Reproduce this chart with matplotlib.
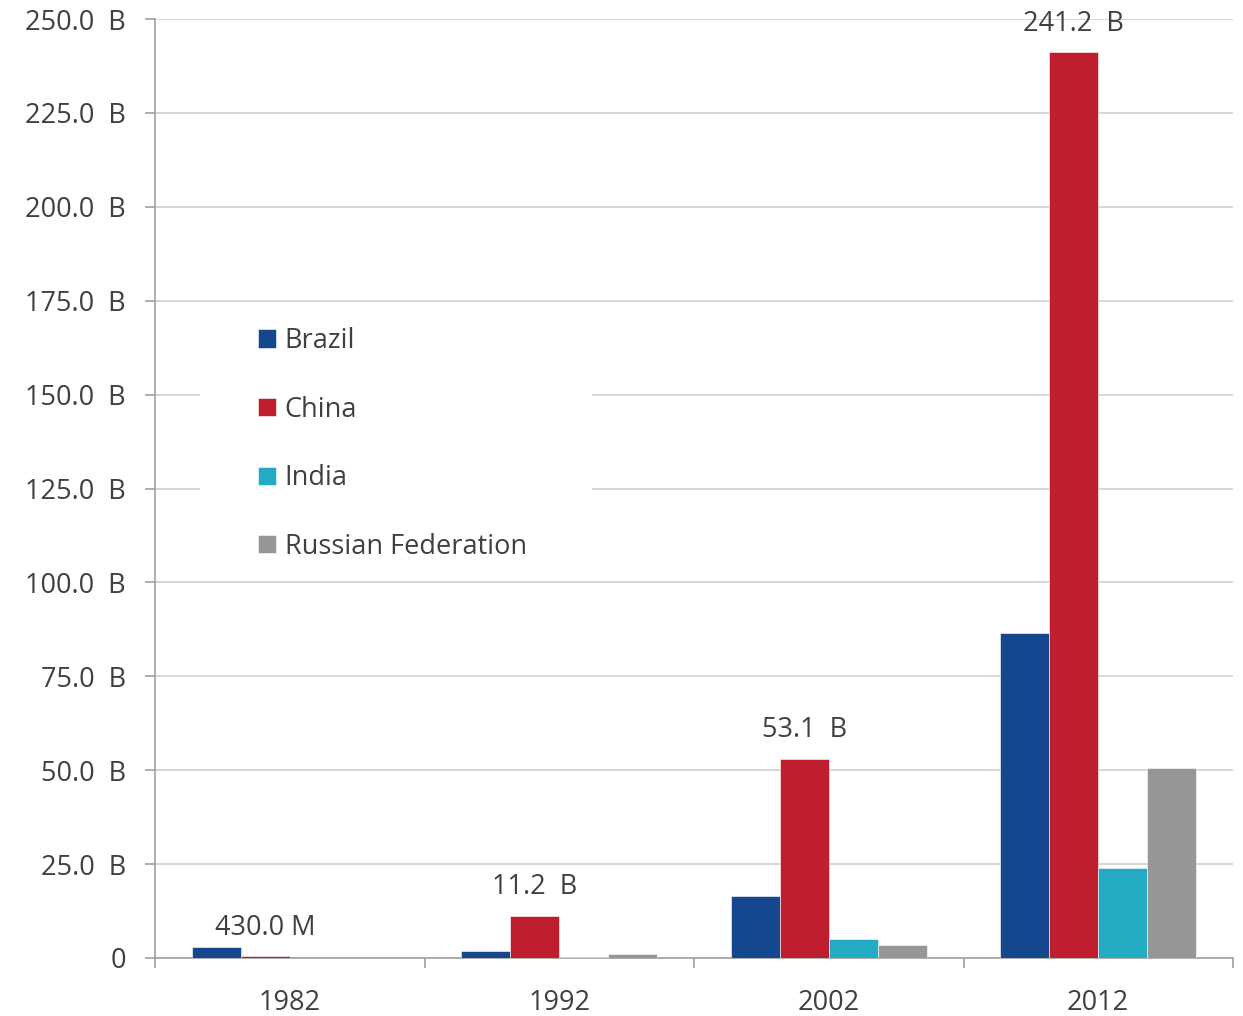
import numpy as np
import matplotlib
matplotlib.use("Agg")
from matplotlib import pyplot as plt
from matplotlib.ticker import FixedLocator
from matplotlib.patches import Rectangle

# data (billions)
years = ['1982', '1992', '2002', '2012']
countries = ['Brazil', 'China', 'India', 'Russian Federation']
brazil = [2.9, 1.9, 16.5, 86.5]
china = [0.43, 11.2, 53.1, 241.2]
india = [0.1, 0.2, 5.1, 24.0]
russia = [0.0, 1.1, 3.4, 50.6]
china_labels = ['430.0 M', '11.2  B', '53.1  B', '241.2  B']
colors = ['#15478f', '#be1e2d', '#22abc3', '#969696']

plt.rcParams['font.family'] = ['Open Sans', 'DejaVu Sans']
txt = '#404040'
fs = 19.5

fig = plt.figure(figsize=(12.43, 10.16), dpi=100)
ax = fig.add_axes([155/1243, 1-958/1016, (1233-155)/1243, (958-19)/1016])

x = np.arange(len(years))
w = 0.182
series = [brazil, china, india, russia]
for i, (vals, c, name) in enumerate(zip(series, colors, countries)):
    ax.bar(x + (i - 1.5)*w, vals, w, color=c, label=name, edgecolor='white', linewidth=0.4, zorder=3)

for xi, v, lab in zip(x, china, china_labels):
    ax.annotate(lab, (xi - 0.5*w, v), xytext=(0, 20.5), textcoords='offset points',
                ha='center', va='center', fontsize=fs, color=txt)

ax.set_xlim(-0.5, 3.5)
ax.set_ylim(0, 250)
ax.set_yticks(np.arange(0, 251, 25))
ax.set_yticklabels(['0'] + ['%.1f  B' % v for v in np.arange(25, 251, 25)])
ax.yaxis.grid(True, color='#d0d0d0', linewidth=1.2, zorder=0)
ax.set_axisbelow(True)
ax.set_xticks(x)
ax.set_xticklabels(years)
ax.xaxis.set_minor_locator(FixedLocator([-0.5, 0.5, 1.5, 2.5, 3.5]))
ax.tick_params(axis='x', which='major', length=0, pad=22.5, labelsize=fs, labelcolor=txt)
ax.tick_params(axis='x', which='minor', length=7, color='#a0a0a0', width=1.2)
ax.tick_params(axis='y', length=7, color='#a0a0a0', width=1.2, labelsize=fs, labelcolor=txt, pad=14)
for s in ['top', 'right']:
    ax.spines[s].set_visible(False)
for s in ['left', 'bottom']:
    ax.spines[s].set_color('#a0a0a0')
    ax.spines[s].set_linewidth(1.2)

# white area behind the legend, breaking the gridlines
ax.add_patch(Rectangle((45/1078, 1-(577-19)/939), (592-200)/1078, (577-305)/939,
                       transform=ax.transAxes, facecolor='white', edgecolor='none', zorder=1))

leg = ax.legend(loc='upper left', bbox_to_anchor=(103/1078, 1-(327-19)/939), fontsize=fs,
                frameon=False, handlelength=0.66, handleheight=0.66, handletextpad=0.32,
                labelspacing=1.5, borderpad=0, borderaxespad=0)
for t in leg.get_texts():
    t.set_color(txt)

fig.savefig('out.png', dpi=100)
